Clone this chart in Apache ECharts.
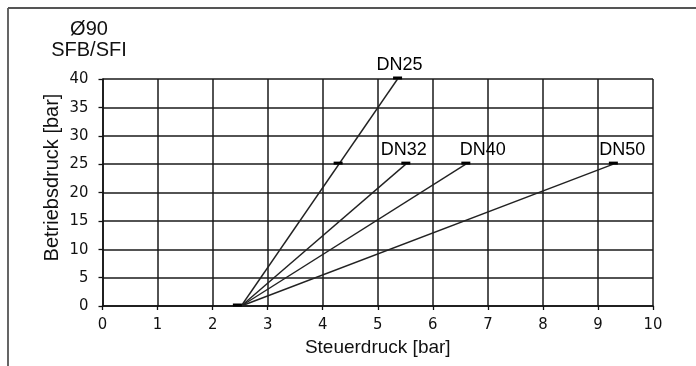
<!DOCTYPE html>
<html>
<head>
<meta charset="utf-8">
<script src="https://cdn.jsdelivr.net/npm/echarts@6/dist/echarts.min.js"></script>
<style>
html,body{margin:0;padding:0;background:#fff;}
#c{width:696px;height:366px;}
</style>
</head>
<body>
<div id="c"></div>
<script>
var seriesNames = ['DN25', 'DN32', 'DN40', 'DN50'];
var startPoint = [2.52, 0];
var endX = [5.36, 5.51, 6.60, 9.28];
var endY = [40, 25, 25, 25];
var startMark = [2.45, 0];
var extraMark = [4.28, 25];
var xTicks = [0, 10, 1];
var yTicks = [0, 40, 5];

var textFont = "'Liberation Sans', Arial, sans-serif";
var narrowFont = "'Liberation Sans Narrow', 'Arial Narrow', 'DejaVu Sans Condensed', sans-serif";
var labelOffsets = [[2, 0], [-2, 0], [17, 0], [9, 0]];

var chart = echarts.init(document.getElementById('c'), null, {renderer: 'canvas'});

var series = [];
seriesNames.forEach(function (n, i) {
  series.push({
    name: n,
    type: 'line',
    data: [startPoint, [endX[i], endY[i]]],
    showSymbol: false,
    symbol: 'none',
    lineStyle: {color: '#222', width: 1.4},
    silent: true,
    z: 3
  });
});
var marks = [startMark, extraMark];
for (var i = 0; i < endX.length; i++) marks.push([endX[i], endY[i]]);
series.push({
  type: 'scatter',
  data: marks,
  symbol: 'rect',
  symbolSize: [9, 3],
  symbolOffset: [0, -1],
  itemStyle: {color: '#000', opacity: 1},
  silent: true,
  z: 4
});
series.push({
  type: 'scatter',
  data: seriesNames.map(function (n, i) {
    return {
      value: [endX[i], endY[i]],
      name: n,
      label: {
        show: true,
        formatter: n,
        position: 'top',
        offset: labelOffsets[i],
        fontFamily: textFont,
        fontSize: 18,
        color: '#000',
        opacity: 1,
        textBorderWidth: 0
      }
    };
  }),
  symbolSize: 0,
  itemStyle: {color: '#000', opacity: 1},
  silent: true,
  z: 5
});

chart.setOption({
  animation: false,
  grid: {left: 102.5, right: 43, top: 79, bottom: 60},
  xAxis: {
    type: 'value', min: xTicks[0], max: xTicks[1], interval: xTicks[2],
    name: 'Steuerdruck [bar]', nameLocation: 'middle', nameGap: 29,
    nameTextStyle: {fontFamily: textFont, fontSize: 19, color: '#111'},
    axisLine: {show: true, lineStyle: {color: '#111', width: 1.5}},
    axisTick: {show: true, length: 4, lineStyle: {color: '#111', width: 1.3}},
    axisLabel: {margin: 10, fontFamily: narrowFont, fontSize: 16.5, color: '#111'},
    splitLine: {show: true, lineStyle: {color: '#1a1a1a', width: 1.5}}
  },
  yAxis: {
    type: 'value', min: yTicks[0], max: yTicks[1], interval: yTicks[2],
    axisLine: {show: true, lineStyle: {color: '#111', width: 1.5}},
    axisTick: {show: true, length: 4, lineStyle: {color: '#111', width: 1.3}},
    axisLabel: {margin: 14, fontFamily: narrowFont, fontSize: 16.5, color: '#111'},
    splitLine: {show: true, lineStyle: {color: '#1a1a1a', width: 1.5}}
  },
  graphic: [
    {type: 'line', shape: {x1: 8, y1: 8, x2: 696, y2: 8}, style: {stroke: '#555', lineWidth: 1.8}},
    {type: 'line', shape: {x1: 8, y1: 8, x2: 8, y2: 366}, style: {stroke: '#555', lineWidth: 1.8}},
    {type: 'text', x: 89, y: 19, style: {text: 'Ø90\nSFB/SFI', align: 'center', verticalAlign: 'top', font: "20px 'Liberation Sans', Arial, sans-serif", lineHeight: 21, fill: '#111'}},
    {type: 'text', x: 52, y: 177.5, rotation: Math.PI / 2, style: {text: 'Betriebsdruck [bar]', align: 'center', verticalAlign: 'middle', font: "20px 'Liberation Sans', Arial, sans-serif", fill: '#111'}}
  ],
  series: series
});
</script>
</body>
</html>
